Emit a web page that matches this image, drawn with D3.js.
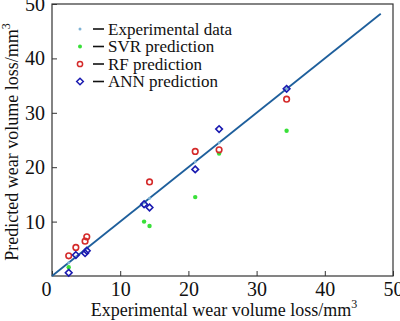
<!DOCTYPE html>
<html>
<head>
<meta charset="utf-8">
<script src="https://cdn.jsdelivr.net/npm/d3@7"></script>
<style>
  html, body { margin: 0; padding: 0; background: #fff; }
</style>
</head>
<body>
<div id="chart"></div>
<script>
// experimental values (x) for each sample
const experimental = [2.45, 3.5, 4.85, 5.1, 13.5, 14.3, 21.0, 24.5, 34.4];
const svrPred = [1.6, null, null, null, 10.0, 9.2, 14.5, 22.5, 26.7];
const rfPred = [3.7, 5.25, 6.4, 7.2, null, 17.3, 22.9, 23.2, 32.5];
const annPred = [0.6, 3.85, 4.2, 4.65, 13.2, 12.6, 19.6, 27.0, 34.4];
const fitLine = [0, 48.2];
const ticks = [0, 10, 20, 30, 40, 50];
const legendLabels = ['Experimental data', 'SVR prediction', 'RF prediction', 'ANN prediction'];

const W = 400, H = 321;
const margin = { left: 52, right: 7, top: 4, bottom: 45 };
const FONT = '"Liberation Serif", "Times New Roman", serif';

const svg = d3.select('#chart').append('svg')
  .attr('width', W).attr('height', H)
  .attr('font-family', FONT);

const x = d3.scaleLinear().domain([0, 50]).range([margin.left, W - margin.right]);
const y = d3.scaleLinear().domain([0, 50]).range([H - margin.bottom, margin.top]);

const axisColor = '#333';

// frame
svg.append('rect')
  .attr('x', x(0)).attr('y', y(50))
  .attr('width', x(50) - x(0)).attr('height', y(0) - y(50))
  .attr('fill', 'none').attr('stroke', axisColor).attr('stroke-width', 1.2);

// axes (inside ticks)
const xAxis = svg.append('g')
  .attr('transform', `translate(0,${y(0)})`)
  .call(d3.axisBottom(x).tickValues(ticks).tickSizeInner(-5).tickSizeOuter(0).tickPadding(6));
const yAxis = svg.append('g')
  .attr('transform', `translate(${x(0)},0)`)
  .call(d3.axisLeft(y).tickValues(ticks).tickSizeInner(-5).tickSizeOuter(0).tickPadding(7));

[xAxis, yAxis].forEach(g => {
  g.attr('font-family', FONT);
  g.select('.domain').remove();
  g.selectAll('line').attr('stroke', axisColor);
  g.selectAll('text').attr('font-size', 20).attr('fill', '#111');
});
xAxis.selectAll('.tick').filter(d => d === 0).select('text').attr('dx', -6);
yAxis.selectAll('.tick').filter(d => d === 0).remove();

// axis titles
const xt = svg.append('text')
  .attr('x', 224).attr('y', 316)
  .attr('text-anchor', 'middle').attr('font-size', 18).attr('fill', '#111');
xt.append('tspan').text('Experimental wear volume loss/mm');
xt.append('tspan').attr('font-size', 12).attr('dy', -8).text('3');

const yt = svg.append('text')
  .attr('transform', `translate(18,${(y(0) + y(50)) / 2 + 2}) rotate(-90)`)
  .attr('text-anchor', 'middle').attr('font-size', 18).attr('fill', '#111');
yt.append('tspan').text('Predicted wear volume loss/mm');
yt.append('tspan').attr('font-size', 12).attr('dy', -8).text('3');

// y = x reference line
svg.append('line')
  .attr('x1', x(fitLine[0])).attr('y1', y(fitLine[0]))
  .attr('x2', x(fitLine[1])).attr('y2', y(fitLine[1]))
  .attr('stroke', '#1e5f9c').attr('stroke-width', 1.8);

const colors = { exp: '#7fb3d5', svr: '#39e039', rf: '#d42a2a', ann: '#1a1ab0' };

function pairs(pred) {
  return experimental.map((e, i) => [e, pred[i]]).filter(d => d[1] != null);
}

// experimental points lie on the line
svg.append('g').selectAll('circle')
  .data(experimental).enter().append('circle')
  .attr('cx', d => x(d)).attr('cy', d => y(d)).attr('r', 1.5)
  .attr('fill', colors.exp);

svg.append('g').selectAll('circle')
  .data(pairs(svrPred)).enter().append('circle')
  .attr('cx', d => x(d[0])).attr('cy', d => y(d[1])).attr('r', 2.2)
  .attr('fill', colors.svr);

svg.append('g').selectAll('circle')
  .data(pairs(rfPred)).enter().append('circle')
  .attr('cx', d => x(d[0])).attr('cy', d => y(d[1])).attr('r', 2.8)
  .attr('fill', 'none').attr('stroke', colors.rf).attr('stroke-width', 1.6);

const diamond = d3.symbol().type(d3.symbolDiamond2).size(28);
svg.append('g').selectAll('path')
  .data(pairs(annPred)).enter().append('path')
  .attr('transform', d => `translate(${x(d[0])},${y(d[1])})`)
  .attr('d', diamond)
  .attr('fill', 'none').attr('stroke', colors.ann).attr('stroke-width', 1.6);

// legend
const legend = svg.append('g').attr('transform', 'translate(80,29)');
const rowH = 17.5;
legendLabels.forEach((label, i) => {
  const row = legend.append('g').attr('transform', `translate(0,${i * rowH})`);
  if (i === 0) {
    row.append('circle').attr('r', 1.5).attr('fill', colors.exp);
  } else if (i === 1) {
    row.append('circle').attr('r', 2).attr('fill', colors.svr);
  } else if (i === 2) {
    row.append('circle').attr('r', 2.6).attr('fill', 'none').attr('stroke', colors.rf).attr('stroke-width', 1.5);
  } else {
    row.append('path').attr('d', diamond).attr('fill', 'none').attr('stroke', colors.ann).attr('stroke-width', 1.5);
  }
  row.append('line').attr('x1', 13).attr('x2', 24).attr('y1', 0).attr('y2', 0)
    .attr('stroke', '#111').attr('stroke-width', 1.6);
  row.append('text').attr('x', 28).attr('y', 5.5).attr('font-size', 17).attr('fill', '#111').text(label);
});
</script>
</body>
</html>
